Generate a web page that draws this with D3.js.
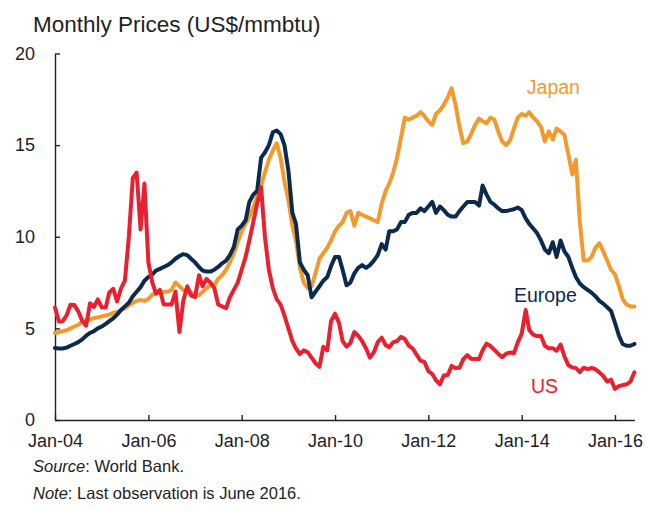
<!DOCTYPE html>
<html>
<head>
<meta charset="utf-8">
<script src="https://cdn.jsdelivr.net/npm/d3@7"></script>
<style>
  body { margin: 0; background: #fff; }
  svg { font-family: "Liberation Sans", Arial, sans-serif; }
  .axis path, .axis line { stroke: #222; stroke-width: 1.4; }
  .axis text { fill: #222; font-size: 18px; }
  .series { fill: none; stroke-width: 4; stroke-linejoin: round; stroke-linecap: round; }
</style>
</head>
<body>
<div class="box"></div>
<script>
// monthly prices, Jan 2004 .. Jun 2016 (US$/mmbtu)
const startYear = 2004;
const usPrices = [
  6.14, 5.37, 5.39, 5.71, 6.29, 6.27, 5.93, 5.41, 5.15, 6.37, 6.17, 6.58,
  6.15, 6.14, 6.96, 7.16, 6.47, 7.18, 7.6, 10.0, 13.2, 13.5, 10.4, 12.9,
  8.6, 7.5, 6.9, 7.1, 6.3, 6.3, 6.3, 7.0, 4.8, 6.5, 7.3, 6.8,
  6.7, 7.9, 7.3, 7.7, 7.5, 7.2, 6.3, 6.2, 6.1, 6.7, 7.1, 7.5,
  8.2, 8.9, 9.8, 10.8, 11.8, 12.7, 10.0, 8.2, 7.2, 6.6, 6.3, 5.7,
  5.0, 4.3, 3.9, 3.6, 3.8, 3.7, 3.4, 3.1, 2.9, 4.0, 3.8, 5.4,
  5.8, 5.3, 4.3, 4.0, 4.2, 4.8, 4.6, 4.3, 3.9, 3.4, 3.7, 4.25,
  4.49, 4.09, 3.97, 4.24, 4.31, 4.54, 4.42, 4.06, 3.90, 3.57, 3.24, 3.17,
  2.67, 2.51, 2.17, 1.95, 2.43, 2.46, 2.95, 2.84, 2.85, 3.32, 3.54, 3.34,
  3.33, 3.33, 3.81, 4.17, 4.04, 3.83, 3.62, 3.43, 3.62, 3.68, 3.64, 4.24,
  4.71, 6.00, 4.90, 4.66, 4.58, 4.59, 4.05, 3.91, 3.92, 3.78, 4.12, 3.48,
  2.99, 2.87, 2.83, 2.61, 2.85, 2.78, 2.84, 2.77, 2.6, 2.4, 2.1, 2.2,
  1.7, 1.85, 1.9, 1.95, 2.1, 2.6
];
const europePrices = [
  3.93, 3.9, 3.9, 3.95, 4.05, 4.15, 4.25, 4.4, 4.6, 4.75, 4.85, 5.0,
  5.1, 5.25, 5.4, 5.55, 5.75, 6.0, 6.2, 6.4, 6.75, 7.0, 7.25, 7.6,
  7.8, 7.95, 8.15, 8.25, 8.35, 8.45, 8.6, 8.8, 8.95, 9.05, 9.0, 8.8,
  8.6, 8.35, 8.15, 8.1, 8.1, 8.2, 8.35, 8.55, 8.7, 9.0, 9.45, 10.4,
  10.6, 10.9, 11.9, 12.3, 12.5, 14.3, 14.6, 15.0, 15.7, 15.8, 15.6, 15.0,
  13.6, 11.3, 10.7, 8.6, 8.2, 7.9, 6.7, 7.0, 7.3, 7.6, 7.8, 8.4,
  8.9, 8.9, 8.2, 7.35, 7.5, 8.0, 8.3, 8.45, 8.3, 8.45, 8.7, 9.0,
  9.6, 9.3, 10.3, 10.3, 10.4, 10.8, 10.8, 11.2, 11.3, 11.3, 11.55, 11.4,
  11.65, 11.9, 11.3, 11.65, 11.45, 11.2, 11.1, 11.1, 11.4, 11.65, 11.9, 11.9,
  11.9, 11.7, 12.8, 12.3, 11.9, 11.75, 11.55, 11.4, 11.4, 11.45, 11.5, 11.6,
  11.45, 11.0, 10.7, 10.45, 10.2, 9.8, 9.3, 9.1, 9.7, 8.9, 9.8, 9.2,
  8.9, 8.3, 7.8, 7.45, 7.25, 7.1, 6.95, 6.75, 6.5, 6.35, 6.15, 5.95,
  5.3, 4.6, 4.15, 4.05, 4.05, 4.15
];
const japanPrices = [
  4.75, 4.8, 4.85, 4.9, 5.0, 5.1, 5.2, 5.35, 5.45, 5.5, 5.55, 5.6,
  5.65, 5.7, 5.75, 5.85, 5.9, 6.0, 6.1, 6.25, 6.4, 6.5, 6.55, 6.5,
  6.6, 6.85, 6.9, 6.95, 7.0, 7.0, 7.1, 7.5, 7.3, 7.1, 7.0, 6.95,
  6.85, 6.8, 7.0, 7.2, 7.35, 7.35, 7.7, 7.9, 8.2, 8.6, 9.1, 9.7,
  10.3, 10.7, 11.1, 11.6, 12.2, 12.8, 13.5, 14.2, 14.7, 15.1, 14.3, 13.0,
  12.0, 10.6, 9.8, 8.3, 7.5, 7.2, 7.3, 8.0, 8.8, 9.1, 9.4, 9.8,
  10.3, 10.6, 10.8, 11.3, 11.4, 10.6, 11.3, 11.2, 11.1, 11.0, 10.9, 10.8,
  11.8, 12.5, 12.9, 13.5, 14.3, 15.4, 16.5, 16.4, 16.5, 16.6, 16.8, 16.6,
  16.3, 16.1, 16.7, 16.9, 17.2, 17.6, 18.1, 17.2, 16.0, 15.1, 15.2, 15.6,
  16.1, 16.45, 16.3, 16.2, 16.5, 16.4, 15.75, 15.2, 15.0, 15.25, 15.9, 16.5,
  16.7, 16.6, 16.8, 16.5, 16.3, 16.0, 15.2, 15.75, 15.3, 15.9, 15.75, 15.55,
  14.5, 13.4, 14.2, 10.8, 8.7, 8.7, 8.9, 9.4, 9.65, 9.2, 8.7, 8.2,
  7.95, 7.3, 6.6, 6.3, 6.2, 6.2
];
const yTicks = [0, 5, 10, 15, 20];
const xTickYears = [2004, 2006, 2008, 2010, 2012, 2014, 2016];

function toSeries (values) {
  return values.map(function (v, i) {
    return { date: new Date(startYear, i, 1), value: v };
  });
}

function loadChart () {
  let width = 647, height = 511;
  let svg = d3.select('.box').append('svg')
    .attr('width', width)
    .attr('height', height);

  let lastDate = new Date(startYear, usPrices.length - 1, 1);
  let x = d3.scaleTime()
    .domain([new Date(startYear, 0, 1), lastDate])
    .range([55, 634.4]);
  let y = d3.scaleLinear()
    .domain([0, 20])
    .range([420, 53.5]);

  // title
  svg.append('text')
    .attr('x', 33).attr('y', 32)
    .style('font-size', '22.5px')
    .style('fill', '#222')
    .text('Monthly Prices (US$/mmbtu)');

  // axes, ticks point inward
  svg.append('g')
    .attr('class', 'axis')
    .attr('transform', 'translate(55,0)')
    .call(d3.axisLeft(y).tickValues(yTicks).tickSizeInner(-5).tickSizeOuter(0).tickPadding(20));
  svg.append('g')
    .attr('class', 'axis')
    .attr('transform', 'translate(0,420)')
    .call(d3.axisBottom(x)
      .tickValues(xTickYears.map(function (yr) { return new Date(yr, 0, 1); }))
      .tickFormat(d3.timeFormat('Jan-%y'))
      .tickSizeInner(-5).tickSizeOuter(0).tickPadding(14));

  let line = d3.line()
    .x(function (d) { return x(d.date); })
    .y(function (d) { return y(d.value); });

  let series = [
    { name: 'Japan', values: japanPrices, color: '#f39a2e' },
    { name: 'Europe', values: europePrices, color: '#0c2a4d' },
    { name: 'US', values: usPrices, color: '#e8202f' }
  ];
  series.forEach(function (s) {
    svg.append('path')
      .datum(toSeries(s.values))
      .attr('class', 'series')
      .attr('stroke', s.color)
      .attr('d', line);
  });

  // series labels
  let labels = [
    { text: 'Japan', date: new Date(2014, 1, 10), value: 17.8, color: '#f39a2e' },
    { text: 'Europe', date: new Date(2013, 10, 1), value: 6.45, color: '#0c2a4d' },
    { text: 'US', date: new Date(2014, 2, 15), value: 1.5, color: '#e8202f' }
  ];
  svg.selectAll('.lbl')
    .data(labels)
    .enter().append('text')
    .attr('class', 'lbl')
    .attr('x', function (d) { return x(d.date); })
    .attr('y', function (d) { return y(d.value); })
    .style('font-size', '19.5px')
    .style('fill', function (d) { return d.color; })
    .text(function (d) { return d.text; });

  // notes
  let src = svg.append('text').attr('x', 33).attr('y', 472)
    .style('font-size', '16.5px').style('fill', '#222');
  src.append('tspan').style('font-style', 'italic').text('Source');
  src.append('tspan').text(': World Bank.');
  let note = svg.append('text').attr('x', 33).attr('y', 499)
    .style('font-size', '16.5px').style('fill', '#222');
  note.append('tspan').style('font-style', 'italic').text('Note');
  note.append('tspan').text(': Last observation is June 2016.');
}

loadChart();
</script>
</body>
</html>
